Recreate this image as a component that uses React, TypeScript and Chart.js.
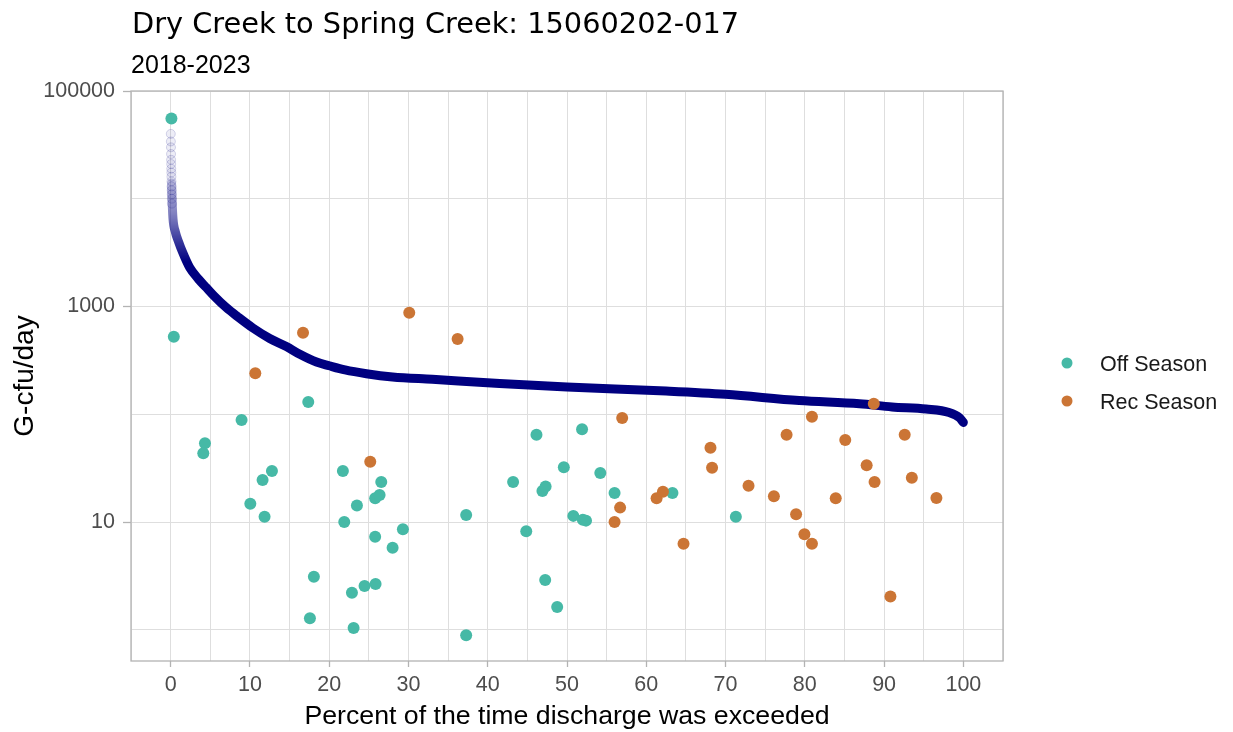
import React, { useEffect, useRef } from 'react';
import { Chart, registerables } from 'chart.js';

Chart.register(...registerables);

const titleText = 'Dry Creek to Spring Creek: 15060202-017';
const subtitleText = '2018-2023';
const xAxisTitle = 'Percent of the time discharge was exceeded';
const yAxisTitle = 'G-cfu/day';
const seriesNames = ['Off Season', 'Rec Season'];

const xGridValues = [-5, 0, 5, 10, 15, 20, 25, 30, 35, 40, 45, 50, 55, 60, 65, 70, 75, 80, 85, 90, 95, 100, 105];
const xTickLabels = [0, 10, 20, 30, 40, 50, 60, 70, 80, 90, 100];
const yGridValues = [1, 10, 100, 1000, 10000, 100000];
const yTickLabels = [10, 1000, 100000];

// Load duration curve
const ldcPercent = [0.12, 0.2, 0.3, 0.6, 1.0, 1.5, 2.4, 3.5, 4.5, 5.5, 7.0, 8.5, 10.4, 12.5, 14.6, 16.3, 18.4, 20, 22, 24.7, 28, 33, 41.5, 50, 62.5, 70, 79.3, 86.9, 91, 95.3, 98.2, 99.5, 100];
const ldcLoad = [14000, 9000, 6500, 4900, 4000, 3200, 2300, 1800, 1500, 1250, 980, 800, 630, 505, 425, 360, 305, 282, 258, 238, 222, 211, 193, 179, 164, 153, 134, 125, 117, 112, 104, 93, 84];

// Sparse, faint points at the top of the curve
const ldcFaintPercent = [0.02, 0.03, 0.04, 0.05, 0.06, 0.07, 0.08, 0.09, 0.1, 0.11, 0.12, 0.13, 0.14, 0.15, 0.16];
const ldcFaintLoad = [40000, 34000, 30000, 26000, 23000, 21000, 19000, 17500, 16000, 14500, 13000, 12000, 11000, 10000, 9000];

// Off Season samples
const offPercent = [0.1, 0.4, 4.33, 4.12, 8.95, 10.05, 11.6, 11.85, 12.78, 17.36, 17.57, 18.07, 21.73, 21.9, 22.87, 23.08, 23.5, 24.46, 25.8, 25.85, 25.8, 26.36, 26.57, 28.0, 29.3, 37.28, 37.28, 43.2, 44.86, 46.15, 46.9, 47.3, 47.25, 48.76, 49.6, 50.8, 51.9, 52.0, 52.4, 54.2, 56.0, 63.3, 71.3];
const offLoad = [55600, 525, 53.8, 43.5, 88.5, 14.8, 24.5, 11.2, 29.8, 130, 1.28, 3.1, 29.8, 10, 2.2, 1.04, 14.2, 2.55, 16.6, 2.66, 7.3, 17.8, 23.5, 5.77, 8.55, 11.6, 0.89, 23.5, 8.2, 64.6, 19.4, 21.4, 2.9, 1.63, 32.2, 11.4, 72.5, 10.5, 10.3, 28.5, 18.6, 18.6, 11.2];

// Rec Season samples
const recPercent = [10.68, 16.7, 25.18, 30.1, 36.2, 56.0, 56.7, 56.96, 61.3, 62.1, 64.7, 68.1, 68.3, 72.9, 76.1, 77.7, 78.9, 79.95, 80.9, 80.9, 83.9, 85.1, 87.8, 88.8, 88.7, 90.8, 92.6, 93.5, 96.6];
const recLoad = [240, 572, 36.3, 877, 500, 10, 13.6, 92.5, 16.6, 19.1, 6.3, 49, 31.9, 21.7, 17.3, 64.6, 11.8, 7.7, 6.3, 95, 16.6, 57.7, 33.6, 23.5, 125, 2.04, 64.6, 25.7, 16.7];

const TEAL = '#46B9A6';
const ORANGE = '#CB7535';
const NAVY = '#000080';
const GRID = '#dedede';
const FRAME = '#b3b3b3';
const TICKTEXT = '#4d4d4d';
const SANS = '"Liberation Sans", Arial, sans-serif';

const toPoints = (xs: number[], ys: number[]) => xs.map((x, i) => ({ x, y: ys[i] }));

const decorPlugin = {
  id: 'decor',
  afterDatasetsDraw(chart: any) {
    const { ctx, chartArea: a } = chart;
    ctx.save();
    ctx.strokeStyle = FRAME;
    ctx.lineWidth = 1.3;
    ctx.strokeRect(a.left, a.top, a.right - a.left, a.bottom - a.top);
    ctx.restore();
  },
  afterDraw(chart: any) {
    const { ctx, chartArea: a } = chart;
    ctx.save();
    ctx.fillStyle = '#000';
    ctx.textAlign = 'left';
    ctx.textBaseline = 'alphabetic';
    ctx.font = '28.8px "DejaVu Sans", sans-serif';
    ctx.fillText(titleText, 132, 33);
    ctx.font = `25px ${SANS}`;
    ctx.fillText(subtitleText, 131, 73);

    // x axis title
    ctx.textAlign = 'center';
    ctx.font = `26.7px ${SANS}`;
    ctx.fillText(xAxisTitle, (a.left + a.right) / 2, 724);

    // y axis title
    ctx.save();
    ctx.translate(33, (a.top + a.bottom) / 2);
    ctx.rotate(-Math.PI / 2);
    ctx.font = `28px ${SANS}`;
    ctx.textAlign = 'center';
    ctx.fillText(yAxisTitle, 0, 0);
    ctx.restore();

    // legend
    const colors = [TEAL, ORANGE];
    const rows = [363, 401];
    ctx.textAlign = 'left';
    ctx.font = `21.5px ${SANS}`;
    seriesNames.forEach((name, i) => {
      ctx.fillStyle = colors[i];
      ctx.beginPath();
      ctx.arc(1067, rows[i], 5.5, 0, Math.PI * 2);
      ctx.fill();
      ctx.fillStyle = '#1a1a1a';
      ctx.fillText(name, 1100, rows[i] + 7.5);
    });
    ctx.restore();
  },
};

export default function App() {
  const ref = useRef<HTMLCanvasElement>(null);

  useEffect(() => {
    document.body.style.margin = '0';
    const canvas = ref.current;
    if (!canvas) return;
    const chart = new Chart(canvas, {
      type: 'scatter',
      data: {
        datasets: [
          {
            label: seriesNames[0],
            data: toPoints(offPercent, offLoad),
            backgroundColor: TEAL,
            borderWidth: 0,
            pointRadius: 6,
            order: 2,
          },
          {
            label: seriesNames[1],
            data: toPoints(recPercent, recLoad),
            backgroundColor: ORANGE,
            borderWidth: 0,
            pointRadius: 6,
            order: 1,
          },
          {
            label: 'LDC',
            type: 'line',
            data: toPoints(ldcPercent, ldcLoad),
            borderColor: (c: any) => {
              const ch = c.chart;
              if (!ch.chartArea || !ch.scales || !ch.scales.y) return NAVY;
              const y = ch.scales.y;
              const g = ch.ctx.createLinearGradient(0, y.getPixelForValue(16000), 0, y.getPixelForValue(2600));
              g.addColorStop(0, 'rgba(0,0,128,0.18)');
              g.addColorStop(0.5, 'rgba(0,0,128,0.55)');
              g.addColorStop(1, NAVY);
              return g;
            },
            borderWidth: 9,
            borderCapStyle: 'round',
            borderJoinStyle: 'round',
            pointRadius: 0,
            cubicInterpolationMode: 'monotone',
            fill: false,
            order: 3,
          } as any,
          {
            label: 'LDC faint',
            data: toPoints(ldcFaintPercent, ldcFaintLoad),
            backgroundColor: 'rgba(0,0,128,0.07)',
            borderColor: 'rgba(0,0,128,0.16)',
            borderWidth: 1,
            pointRadius: 4.5,
            order: 4,
          },
        ],
      },
      options: {
        responsive: false,
        animation: false,
        events: [],
        layout: { padding: { top: 91, right: 230, bottom: 0, left: 0 } },
        plugins: {
          legend: { display: false },
          tooltip: { enabled: false },
          title: { display: false },
        },
        scales: {
          x: {
            type: 'linear',
            min: -5,
            max: 105,
            afterBuildTicks: (s: any) => {
              s.ticks = xGridValues.map((value) => ({ value }));
            },
            afterFit: (s: any) => {
              s.height = 71;
            },
            ticks: {
              autoSkip: false,
              maxRotation: 0,
              minRotation: 0,
              padding: 5,
              color: TICKTEXT,
              font: { family: SANS, size: 21.5 },
              callback: (v: any) => (xTickLabels.includes(Number(v)) ? String(v) : ''),
            },
            grid: {
              color: GRID,
              lineWidth: 1,
              tickLength: 6,
              tickWidth: 1.3,
              tickColor: (c: any) => (c.tick && xTickLabels.includes(c.tick.value) ? FRAME : 'rgba(0,0,0,0)'),
            },
            border: { display: false },
          },
          y: {
            type: 'logarithmic',
            min: 0.513,
            max: 100000,
            afterBuildTicks: (s: any) => {
              s.ticks = yGridValues.map((value) => ({ value }));
            },
            afterFit: (s: any) => {
              s.width = 131;
            },
            ticks: {
              autoSkip: false,
              padding: 8,
              color: TICKTEXT,
              font: { family: SANS, size: 21.5 },
              callback: (v: any) => (yTickLabels.includes(Number(v)) ? String(v) : ''),
            },
            grid: {
              color: GRID,
              lineWidth: 1,
              tickLength: 8,
              tickWidth: 1.3,
              tickColor: (c: any) => (c.tick && yTickLabels.includes(c.tick.value) ? FRAME : 'rgba(0,0,0,0)'),
            },
            border: { display: false },
          },
        },
      },
      plugins: [decorPlugin],
    } as any);
    return () => chart.destroy();
  }, []);

  return (
    <div style={{ width: 1233, height: 732, position: 'relative', background: '#fff' }}>
      <canvas ref={ref} width={1233} height={732} style={{ display: 'block' }} />
    </div>
  );
}
